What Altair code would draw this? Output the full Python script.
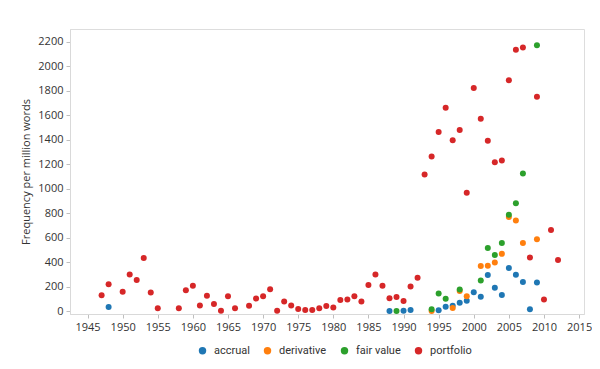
import altair as alt
import pandas as pd

portfolio_years = [1947, 1948, 1950, 1951, 1952, 1953, 1954, 1955, 1958, 1959, 1960, 1961, 1962, 1963,
                   1964, 1965, 1966, 1968, 1969, 1970, 1971, 1972, 1973, 1974, 1975, 1976, 1977, 1978,
                   1979, 1980, 1981, 1982, 1983, 1984, 1985, 1986, 1987, 1988, 1989, 1990, 1991, 1992,
                   1993, 1994, 1995, 1996, 1997, 1998, 1999, 2000, 2001, 2002, 2003, 2004, 2005, 2006,
                   2007, 2008, 2009, 2010, 2011, 2012]
portfolio_vals = [130, 220, 157, 299, 253, 434, 152, 22, 24, 171, 206, 46, 125, 57,
                  2, 122, 24, 43, 102, 122, 179, 3, 79, 46, 16, 8, 8, 22,
                  41, 30, 90, 95, 122, 79, 214, 299, 206, 104, 114, 83, 201, 273,
                  1116, 1263, 1464, 1662, 1396, 1480, 967, 1823, 1573, 1393, 1216, 1230, 1888, 2137,
                  2154, 438, 1753, 95, 662, 418]

accrual_years = [1948, 1988, 1990, 1991, 1995, 1996, 1997, 1998, 1999, 2000, 2001, 2002, 2003, 2004,
                 2005, 2006, 2007, 2008, 2009]
accrual_vals = [33, 0, 2, 8, 7, 35, 43, 68, 84, 153, 117, 295, 191, 132,
                353, 296, 238, 14, 234]

derivative_years = [1994, 1997, 1998, 1999, 2001, 2002, 2003, 2004, 2005, 2006, 2007, 2009]
derivative_vals = [0, 26, 165, 122, 368, 371, 398, 468, 768, 741, 557, 587]

fair_value_years = [1989, 1994, 1995, 1996, 1998, 2001, 2002, 2003, 2004, 2005, 2006, 2007, 2009]
fair_value_vals = [0, 14, 144, 100, 177, 249, 516, 459, 557, 788, 882, 1124, 2173]

terms = ["accrual", "derivative", "fair value", "portfolio"]
colors = ["#1f77b4", "#ff7f0e", "#2ca02c", "#d62728"]
x_ticks = list(range(1945, 2016, 5))
y_ticks = list(range(0, 2201, 200))

rows = []
for term, yrs, vals in [("accrual", accrual_years, accrual_vals),
                        ("derivative", derivative_years, derivative_vals),
                        ("fair value", fair_value_years, fair_value_vals),
                        ("portfolio", portfolio_years, portfolio_vals)]:
    for y, v in zip(yrs, vals):
        rows.append({"year": y, "value": v, "term": term})
df = pd.DataFrame(rows)

FONT = "Open Sans"

chart = alt.Chart(df).mark_circle(size=36, opacity=1).encode(
    x=alt.X("year:Q",
            scale=alt.Scale(domain=[1942.5, 2015.7], nice=False, zero=False),
            axis=alt.Axis(title=None, values=x_ticks, format="d", grid=False,
                          tickSize=4, labelPadding=3, domainColor="#d9d9d9",
                          tickColor="#bfbfbf", labelColor="#333333",
                          labelFont=FONT, labelFontSize=11)),
    y=alt.Y("value:Q",
            scale=alt.Scale(domain=[-24, 2306], nice=False, zero=False),
            axis=alt.Axis(title="Frequency per million words", values=y_ticks, format="d",
                          grid=False, tickSize=4, labelPadding=3, domainColor="#d9d9d9",
                          tickColor="#bfbfbf", labelColor="#333333", labelFont=FONT,
                          labelFontSize=11, titleFont=FONT, titleFontSize=11,
                          titleFontWeight="normal", titleColor="#333333", titlePadding=6)),
    color=alt.Color("term:N",
                    scale=alt.Scale(domain=terms, range=colors),
                    legend=alt.Legend(title=None, orient="none", direction="horizontal",
                                      legendX=127, legendY=316, symbolType="circle",
                                      symbolSize=55, labelOffset=6, columnPadding=12,
                                      labelFont="Roboto", labelFontSize=11,
                                      labelColor="#333333")),
).properties(
    width=514, height=285,
    autosize=alt.AutoSizeParams(type="none"),
    padding={"left": 62, "top": 21, "right": 8, "bottom": 47},
).configure_view(stroke="#d9d9d9", strokeWidth=1).configure(background="white")

chart.save("out.html", embed_options={"renderer": "svg", "actions": False})
